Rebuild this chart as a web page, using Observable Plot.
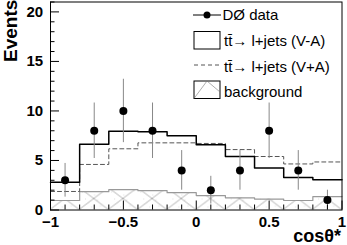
<!DOCTYPE html>
<html><head><meta charset="utf-8">
<script src="https://cdn.jsdelivr.net/npm/d3@7"></script>
<script src="https://cdn.jsdelivr.net/npm/@observablehq/plot@0.6"></script>
<style>
body{margin:0;background:#fff;}
#chart svg{display:block;}
</style></head><body><div id="chart"></div>
<script>
// ---- data ----
const binEdges = [-1, -0.8, -0.6, -0.4, -0.2, 0, 0.2, 0.4, 0.6, 0.8, 1];
const binCenters = [-0.9, -0.7, -0.5, -0.3, -0.1, 0.1, 0.3, 0.5, 0.7, 0.9];
const dataCounts = [3, 8, 10, 8, 4, 2, 4, 8, 4, 1];
const dataErrors = [1.7, 2.8, 3.2, 2.8, 2.0, 1.4, 2.0, 2.8, 2.0, 1.0];
const vMinusA = [2.8, 6.65, 7.95, 7.9, 7.5, 6.6, 5.4, 4.25, 3.28, 3.05];
const vPlusA = [1.87, 4.6, 6.18, 6.78, 6.78, 6.72, 6.1, 5.4, 4.65, 4.85];
const background = [0.96, 1.85, 2.05, 1.95, 1.75, 1.46, 1.23, 1.1, 0.96, 1.36];
const xTicks = [-1, -0.5, 0, 0.5, 1];
const xTickLabels = ["\u22121", "\u22120.5", "0", "0.5", "1"];
const xMinorTicks = [-0.9, -0.8, -0.7, -0.6, -0.4, -0.3, -0.2, -0.1, 0.1, 0.2, 0.3, 0.4, 0.6, 0.7, 0.8, 0.9];
const yTicks = [0, 5, 10, 15, 20];
const yMinorTicks = [1, 2, 3, 4, 6, 7, 8, 9, 11, 12, 13, 14, 16, 17, 18, 19, 21];
const legendLabels = ["D\u00D8 data", "tt\u0304\u2192 l+jets (V-A)", "tt\u0304\u2192 l+jets (V+A)", "background"];
const xLabel = "cos\u03B8*";
const yLabel = "Events";

// ---- derived tables ----
const bins = binCenters.map((c, i) => ({
  x1: binEdges[i], x2: binEdges[i + 1], c,
  n: dataCounts[i], e: dataErrors[i], bg: background[i]
}));
const steps = vals => binEdges.map((x, i) => ({x, y: vals[Math.min(i, vals.length - 1)]}));

const FONT = "'Liberation Sans', Arial, Helvetica, sans-serif";

const chart = Plot.plot({
  width: 347,
  height: 245,
  marginLeft: 50,
  marginRight: 5.5,
  marginTop: 1.5,
  marginBottom: 35.5,
  style: {fontFamily: FONT, fontSize: "15px", fontWeight: "bold", color: "black", background: "white", overflow: "visible"},
  x: {domain: [-1, 1]},
  y: {domain: [0, 21]},
  marks: [
    Plot.rectY(bins, {x1: "x1", x2: "x2", y: "bg", fill: "url(#bgHatch)"}),
    Plot.line(steps(background), {x: "x", y: "y", curve: "step-after", stroke: "#999", strokeWidth: 1.2}),
    Plot.line(steps(vPlusA), {x: "x", y: "y", curve: "step-after", stroke: "#555", strokeWidth: 1, strokeDasharray: "4,3"}),
    Plot.line(steps(vMinusA), {x: "x", y: "y", curve: "step-after", stroke: "black", strokeWidth: 1.5}),
    Plot.ruleX(bins, {x: "c", y1: d => d.n - d.e, y2: d => d.n + d.e, stroke: "#888", strokeWidth: 1}),
    Plot.dot(bins, {x: "c", y: "n", r: 4, fill: "black", stroke: "none"}),
    Plot.frame({stroke: "black", strokeWidth: 1}),
    Plot.axisX(xTicks, {tickSize: -9, tickPadding: 15.5, tickFormat: d => xTickLabels[xTicks.indexOf(d)], label: null}),
    Plot.axisX(xMinorTicks, {tickSize: -5, tickFormat: () => "", label: null}),
    Plot.axisY(yTicks, {tickSize: -9, tickPadding: 16.3, label: null}),
    Plot.axisY(yMinorTicks, {tickSize: -4.5, tickFormat: () => "", label: null})
  ]
});
document.getElementById("chart").appendChild(chart);

// ---- pattern, labels and legend ----
const svg = d3.select(chart);
const xs = chart.scale("x"), ys = chart.scale("y");
const pw = xs.apply(binEdges[1]) - xs.apply(binEdges[0]);
const ph = 22;
const defs = svg.insert("defs", ":first-child");
const pat = defs.append("pattern").attr("id", "bgHatch").attr("patternUnits", "userSpaceOnUse")
  .attr("x", xs.apply(-1)).attr("y", ys.apply(0) - ph).attr("width", pw).attr("height", ph);
pat.append("rect").attr("width", pw).attr("height", ph).attr("fill", "white");
pat.append("line").attr("x1", 0).attr("y1", ph).attr("x2", pw).attr("y2", 0).attr("stroke", "#555").attr("stroke-width", 0.45);
pat.append("line").attr("x1", 0).attr("y1", 0).attr("x2", pw).attr("y2", ph).attr("stroke", "#555").attr("stroke-width", 0.45);
[[3,4],[9,15],[15,7],[21,18],[25,3],[6,11],[18,12],[12,19]].forEach(([a,b]) =>
  pat.append("rect").attr("x", a).attr("y", b).attr("width", 0.8).attr("height", 0.8).attr("fill", "#ccc"));

svg.append("text").attr("transform", "translate(16.5,62) rotate(-90)").attr("text-anchor", "start")
  .attr("font-family", FONT).attr("font-size", 19).attr("font-weight", "bold").text(yLabel);
svg.append("text").attr("x", 341).attr("y", 242).attr("text-anchor", "end")
  .attr("font-family", FONT).attr("font-size", 18).attr("font-weight", "bold").text(xLabel);

const lg = svg.append("g").attr("font-family", FONT).attr("font-size", 15).attr("font-weight", "normal").attr("text-anchor", "start");
const bx0 = 194, bx1 = 220, tx = 224;
const rowY = [15, 40, 65, 90];
const baseY = [20.3, 46, 71.5, 97.3];
// row 1: data
lg.append("line").attr("x1", 193).attr("x2", 221).attr("y1", rowY[0]).attr("y2", rowY[0]).attr("stroke", "black");
lg.append("circle").attr("cx", 207).attr("cy", rowY[0]).attr("r", 3.5).attr("fill", "black");
// row 2: V-A box
lg.append("rect").attr("x", bx0).attr("y", 31.5).attr("width", bx1 - bx0).attr("height", 17.5)
  .attr("fill", "white").attr("stroke", "black").attr("stroke-width", 1);
// row 3: V+A dashed
lg.append("line").attr("x1", bx0).attr("x2", bx1).attr("y1", rowY[2]).attr("y2", rowY[2])
  .attr("stroke", "#555").attr("stroke-dasharray", "4,3");
// row 4: background hatched box
lg.append("rect").attr("x", bx0).attr("y", 81).attr("width", bx1 - bx0).attr("height", 17.5)
  .attr("fill", "white").attr("stroke", "black").attr("stroke-width", 1);
lg.append("polyline").attr("points", `${bx0},98.5 ${bx0 + 13},81 ${bx1},92`)
  .attr("fill", "none").attr("stroke", "#777").attr("stroke-width", 0.6);
legendLabels.forEach((t, i) => {
  lg.append("text").attr("x", i === 0 ? 222.5 : tx).attr("y", baseY[i]).attr("text-anchor", "start").text(t);
});
</script>
</body></html>
